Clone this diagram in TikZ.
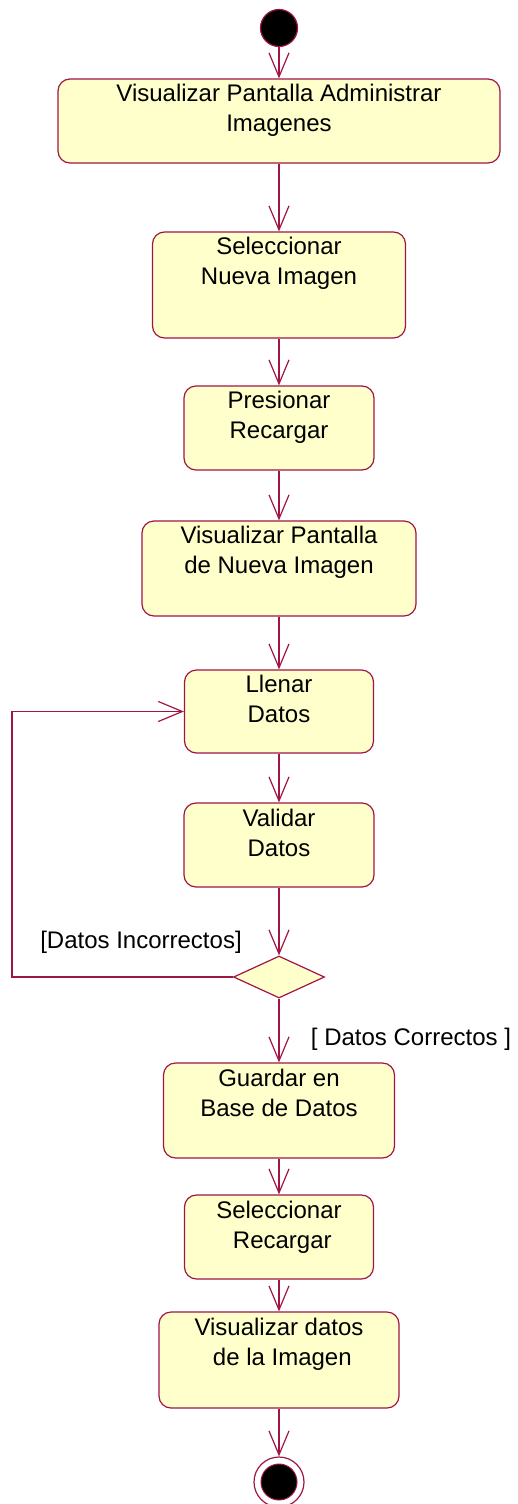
\documentclass[tikz,border=0pt]{standalone}
\usepackage{fontspec}
\setmainfont{Liberation Sans}
\usetikzlibrary{arrows.meta,shapes.geometric}
\definecolor{roseline}{RGB}{160,20,70}
\definecolor{rosefill}{RGB}{255,255,204}
\begin{document}
\begin{tikzpicture}[x=1pt, y=-1pt,
    act/.style={draw=roseline, fill=rosefill, line width=1.2pt, rounded corners=12pt, inner sep=0pt},
    acttext/.style={anchor=north, inner sep=6pt, align=center, font=\fontsize{24}{30}\selectfont},
    guard/.style={font=\fontsize{24}{30}\selectfont, anchor=base},
    flow/.style={draw=roseline, line width=1.2pt, -{Straight Barb[length=24pt,width=20pt,line width=1.2pt]}}]
    \useasboundingbox (0,0) rectangle (517,1504);

    \node[circle, draw=roseline, fill=black, line width=1.2pt, minimum size=37pt, inner sep=0pt] (start) at (279,28) {};

    \node[act, minimum width=442pt, minimum height=84pt,
        label={[acttext]north:{Visualizar Pantalla Administrar\\Imagenes}}] (a1) at (279,121) {};
    \node[act, minimum width=253pt, minimum height=106pt,
        label={[acttext]north:{Seleccionar\\Nueva Imagen}}] (a2) at (279,285) {};
    \node[act, minimum width=190pt, minimum height=84pt,
        label={[acttext]north:{Presionar\\Recargar}}] (a3) at (279,428) {};
    \node[act, minimum width=274pt, minimum height=95pt,
        label={[acttext]north:{Visualizar Pantalla\\de Nueva Imagen}}] (a4) at (279,568.5) {};
    \node[act, minimum width=189pt, minimum height=83pt,
        label={[acttext]north:{Llenar\\Datos}}] (a5) at (279,711.5) {};
    \node[act, minimum width=190pt, minimum height=84pt,
        label={[acttext]north:{Validar\\Datos}}] (a6) at (279,845) {};

    \node[diamond, draw=roseline, fill=rosefill, line width=1.2pt, minimum width=91pt, minimum height=42pt, inner sep=0pt] (dec) at (279,977) {};

    \node[act, minimum width=231pt, minimum height=95pt,
        label={[acttext]north:{Guardar en\\Base de Datos}}] (a7) at (279,1110.5) {};
    \node[act, minimum width=189pt, minimum height=84pt,
        label={[acttext]north:{Seleccionar\\\ Recargar}}] (a8) at (279,1237) {};
    \node[act, minimum width=240pt, minimum height=96pt,
        label={[acttext]north:{Visualizar datos\\\ de la Imagen}}] (a9) at (279,1360) {};

    \node[circle, draw=roseline, line width=1.2pt, minimum size=50pt, inner sep=0pt] (stop) at (279,1482) {};
    \node[circle, draw=roseline, fill=black, line width=1pt, minimum size=36pt, inner sep=0pt] (stopin) at (279,1482) {};

    \node[guard] (g1) at (141,948) {[Datos Incorrectos]};
    \node[guard] (g2) at (411,1045) {[ Datos Correctos ]};

    \coordinate (lp) at (12,0);

    \draw[flow] (start) -- (a1);
    \draw[flow] (a1) -- (a2);
    \draw[flow] (a2) -- (a3);
    \draw[flow] (a3) -- (a4);
    \draw[flow] (a4) -- (a5);
    \draw[flow] (a5) -- (a6);
    \draw[flow] (a6) -- (dec);
    \draw[flow] (dec.west) -- (dec.west -| lp) |- (a5.west);
    \draw[flow] (dec) -- (a7);
    \draw[flow] (a7) -- (a8);
    \draw[flow] (a8) -- (a9);
    \draw[flow] (a9) -- (stop);
\end{tikzpicture}
\end{document}
